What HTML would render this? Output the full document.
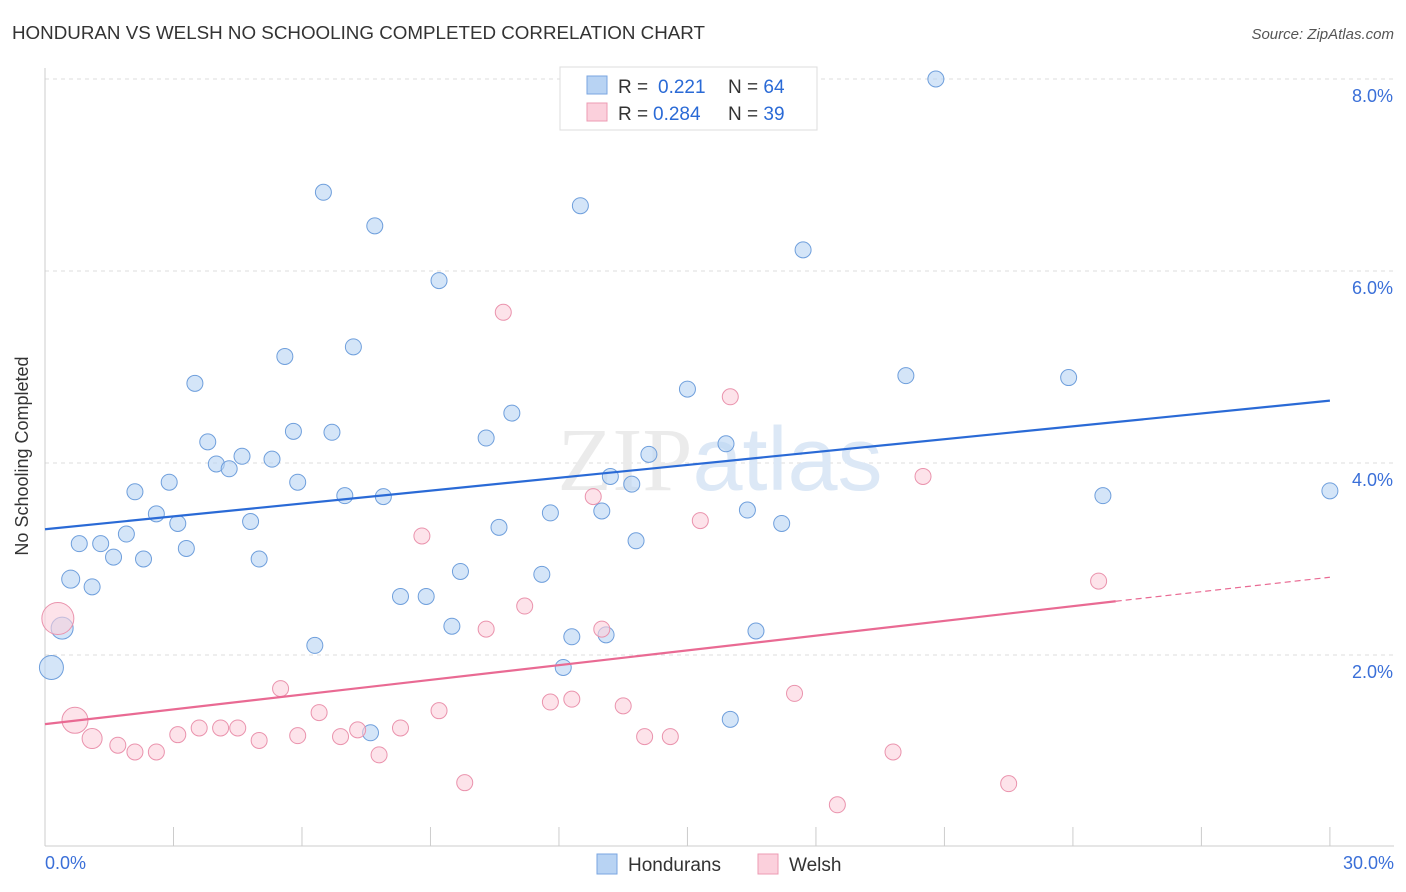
<!DOCTYPE html>
<html><head><meta charset="utf-8"><style>
body{margin:0;background:#fff;font-family:"Liberation Sans",sans-serif;}
svg{display:block}
</style></head><body>
<svg width="1406" height="892" xmlns="http://www.w3.org/2000/svg">
<text x="12" y="39" font-size="18" fill="#333" textLength="693" lengthAdjust="spacingAndGlyphs">HONDURAN VS WELSH NO SCHOOLING COMPLETED CORRELATION CHART</text>
<text x="1394" y="39" font-size="15" fill="#555" font-style="italic" text-anchor="end">Source: ZipAtlas.com</text>
<g id="grid"></g>
<text x="720" y="490" font-size="90" fill="#ebebeb" text-anchor="middle" font-family="Liberation Serif">ZIP<tspan fill="#dce8f6" font-family="Liberation Sans">atlas</tspan></text>
<line x1="45" y1="68" x2="45" y2="846" stroke="#ccc"/>
<line x1="45" y1="846" x2="1394" y2="846" stroke="#ccc"/>
<g id="ticks"></g>
<g id="pts"></g>
<g id="trend"></g>
<text x="28" y="456" font-size="18" fill="#333" text-anchor="middle" transform="rotate(-90 28 456)">No Schooling Completed</text>
<text x="45" y="869" font-size="18" fill="#3a6fd8">0.0%</text>
<text x="1394" y="869" font-size="18" fill="#3a6fd8" text-anchor="end">30.0%</text>
<g>
<rect x="560" y="67" width="257" height="63" fill="#fff" stroke="#ddd"/>
<rect x="587" y="76" width="20" height="18" fill="#b8d3f3" stroke="#7aa6e0"/>
<rect x="587" y="103" width="20" height="18" fill="#fbd0dc" stroke="#ec9bb3"/>
<text x="618" y="93" font-size="19" fill="#333">R = <tspan fill="#2a6ad6" x="658">0.221</tspan><tspan x="728" fill="#333">N = </tspan><tspan fill="#2a6ad6">64</tspan></text>
<text x="618" y="120" font-size="19" fill="#333">R = <tspan fill="#2a6ad6" x="653">0.284</tspan><tspan x="728" fill="#333">N = </tspan><tspan fill="#2a6ad6">39</tspan></text>
</g>
<g>
<rect x="597" y="854" width="20" height="20" fill="#b8d3f3" stroke="#7aa6e0"/>
<text x="628" y="871" font-size="19" fill="#333">Hondurans</text>
<rect x="758" y="854" width="20" height="20" fill="#fbd0dc" stroke="#ec9bb3"/>
<text x="789" y="871" font-size="19" fill="#333">Welsh</text>
</g>
</svg>
<script>
const yTicks=[2,4,6,8];
const yTickLabels=["2.0%","4.0%","6.0%","8.0%"];
const xTicks=[0,3,6,9,12,15,18,21,24,27,30];
const hondX=[20.8,6.5,7.7,12.5,17.7,9.2,7.2,5.6,3.5,15.0,20.1,23.9,10.9,5.8,6.7,3.8,10.3,15.9,4.6,5.3,4.0,4.3,14.1,13.2,2.9,5.9,13.7,2.1,7.0,7.9,24.7,30.0,2.6,3.1,4.8,10.6,11.8,13.0,16.4,17.2,1.9,0.8,1.3,3.3,13.8,1.6,2.3,5.0,9.7,11.6,0.6,1.1,8.3,8.9,9.5,12.3,13.1,16.6,0.4,6.3,12.1,0.15,16.0,7.6];
const hondY=[8.0,6.82,6.47,6.68,6.22,5.90,5.21,5.11,4.83,4.77,4.91,4.89,4.52,4.33,4.32,4.22,4.26,4.20,4.07,4.04,3.99,3.94,4.09,3.86,3.80,3.80,3.78,3.70,3.66,3.65,3.66,3.71,3.47,3.37,3.39,3.33,3.48,3.50,3.51,3.37,3.26,3.16,3.16,3.11,3.19,3.02,3.00,3.00,2.87,2.84,2.79,2.71,2.61,2.61,2.30,2.19,2.21,2.25,2.28,2.10,1.87,1.87,1.33,1.19];
const hondR=[8,8,8,8,8,8,8,8,8,8,8,8,8,8,8,8,8,8,8,8,8,8,8,8,8,8,8,8,8,8,8,8,8,8,8,8,8,8,8,8,8,8,8,8,8,8,8,8,8,8,9,8,8,8,8,8,8,8,11,8,8,12,8,8];
const welshX=[10.7,16.0,20.5,12.8,15.3,8.8,24.6,11.2,10.3,13.0,5.5,17.5,11.8,12.3,13.5,9.2,6.4,0.3,0.7,1.1,1.7,2.1,2.6,3.1,3.6,4.1,4.5,5.0,5.9,6.9,7.3,7.8,8.3,14.0,14.6,19.8,9.8,22.5,18.5];
const welshY=[5.57,4.69,3.86,3.65,3.40,3.24,2.77,2.51,2.27,2.27,1.65,1.60,1.51,1.54,1.47,1.42,1.40,2.38,1.32,1.13,1.06,0.99,0.99,1.17,1.24,1.24,1.24,1.11,1.16,1.15,1.22,0.96,1.24,1.15,1.15,0.99,0.67,0.66,0.44];
const welshR=[8,8,8,8,8,8,8,8,8,8,8,8,8,8,8,8,8,16,13,10,8,8,8,8,8,8,8,8,8,8,8,8,8,8,8,8,8,8,8];
const hondTrend=[3.31,4.65];
const welshTrend=[1.28,2.56,2.81];
const NS="http://www.w3.org/2000/svg";
const sx=v=>45+v*42.83, sy=v=>847-v*96;
function mk(tag,attrs,parent){const e=document.createElementNS(NS,tag);for(const k in attrs)e.setAttribute(k,attrs[k]);document.getElementById(parent).appendChild(e);return e;}
yTicks.forEach((t,i)=>{
 const l=mk('line',{x1:45,x2:1394,y1:sy(t),y2:sy(t),stroke:'#ddd','stroke-dasharray':'4,4'},'grid');
 
 
 const tx=mk('text',{x:1393,y:sy(t)+23,'font-size':18,fill:'#3a6fd8','text-anchor':'end'},'grid');
 tx.textContent=yTickLabels[i];
 
 
});
xTicks.forEach(t=>{
 const l=mk('line',{x1:sx(t),x2:sx(t),y1:827,y2:846,stroke:'#ccc'},'ticks');
 
 
});
hondX.forEach((x,i)=>{
 const c=mk('circle',{cx:sx(x),cy:sy(hondY[i]),r:hondR[i],fill:'rgba(184,211,243,0.6)',stroke:'#6f9fdc','stroke-width':1},'pts');
 
 
});
welshX.forEach((x,i)=>{
 const c=mk('circle',{cx:sx(x),cy:sy(welshY[i]),r:welshR[i],fill:'rgba(251,208,220,0.6)',stroke:'#ea93ad','stroke-width':1},'pts');
 
 
});
const bl=mk('line',{x1:sx(0),y1:sy(hondTrend[0]),x2:sx(30),y2:sy(hondTrend[1]),stroke:'#2a6ad6','stroke-width':2.2},'trend');


const pl=mk('line',{x1:sx(0),y1:sy(welshTrend[0]),x2:sx(25),y2:sy(welshTrend[1]),stroke:'#e96a93','stroke-width':2.2},'trend');


const pd=mk('line',{x1:sx(25),y1:sy(welshTrend[1]),x2:sx(30),y2:sy(welshTrend[2]),stroke:'#e96a93','stroke-width':1.2,'stroke-dasharray':'6,4'},'trend');


</script>
</body></html>
